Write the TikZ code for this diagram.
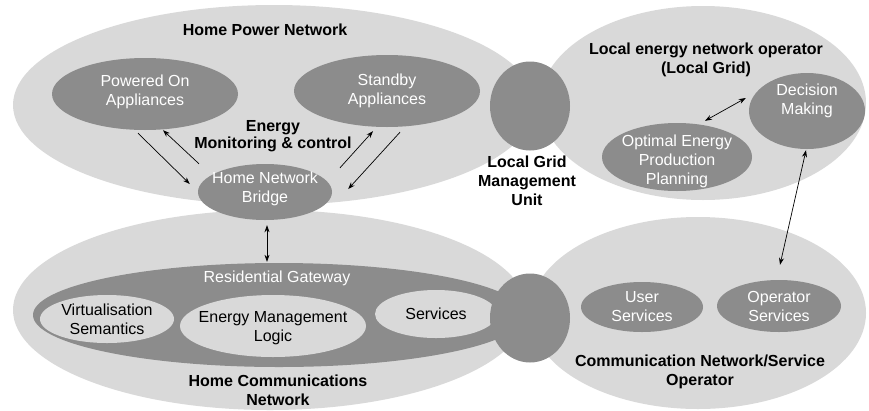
\documentclass[tikz,border=0pt]{standalone}
\usepackage{fontspec}
\setmainfont{Liberation Sans}
\usetikzlibrary{shapes.geometric,arrows.meta,calc}

\begin{document}
\begin{tikzpicture}[x=1pt,y=-1pt,
  every node/.style={font=\fontsize{16}{19}\selectfont,align=center},
  size/.style 2 args={minimum width=#1pt,minimum height=#2pt,inner sep=0pt},
  zone/.style={ellipse,fill=lightgrey},
  part/.style={ellipse,fill=darkgrey},
  wlabel/.style={text=white},
  heading/.style={font=\fontsize{16}{19}\selectfont\bfseries},
  arr/.style={-{Stealth[length=7pt,width=5pt]},line width=0.7pt},
  dbl/.style={{Stealth[length=7pt,width=5pt]}-{Stealth[length=7pt,width=5pt]},line width=0.7pt}]
\definecolor{lightgrey}{HTML}{D9D9D9}
\definecolor{darkgrey}{HTML}{8C8C8C}
\useasboundingbox (0,0) rectangle (869,410);

\node [zone,size={522}{200}] (hpn) at (274,105) {};
\node [zone,size={514}{200}] (hcn) at (270,310) {};
\node [zone,size={326}{194}] (leno) at (703,103) {};
\node [zone,size={336}{192}] (cnso) at (698,313) {};

\node [part,size={134}{56},label={[wlabel,yshift=3pt]center:Home Network\\Bridge}] (bridge) at (265,192) {};
\node [part,size={492}{104}] (gw) at (279,315) {};
\node [zone,size={134}{48},label={center:Virtualisation\\Semantics}] (vs) at (107,319) {};
\node [zone,size={186}{62},label={[yshift=-2pt]center:Energy Management\\Logic}] (eml) at (273,326) {};
\node [zone,size={122}{48},label={center:Services}] (serv) at (436,314) {};

\foreach \nm/\ypos in {lgmu/106,cgw/318}
  {  \node [part,size={80}{89}] (\nm) at (530,\ypos) {};}

\node [part,size={186}{72},label={[wlabel,yshift=2pt]center:Powered On\\Appliances}] (pon) at (145,94) {};
\node [part,size={186}{72},label={[wlabel]center:Standby\\Appliances}] (sa) at (387,91) {};
\node [part,size={150}{68},label={[wlabel,yshift=-4pt]center:Optimal Energy\\Production\\Planning}] (oepp) at (677,157) {};
\node [part,size={116}{76},label={[wlabel,yshift=10pt]center:Decision\\Making}] (dm) at (807,111) {};
\node [part,size={122}{50},label={[wlabel]center:User\\Services}] (us) at (642,307) {};
\node [part,size={124}{52},label={[wlabel]center:Operator\\Services}] (os) at (779,306) {};

\node [heading] (hpntitle) at (265,30) {Home Power Network};
\node [heading,font=\fontsize{16}{17}\selectfont\bfseries] (emc) at (273,136) {Energy\\Monitoring \& control};
\node [text=white] (gwtitle) at (277,278) {Residential Gateway};
\node [heading] (hcntitle) at (278,390) {Home Communications\\Network};
\node [heading] (lenotitle) at (706,60) {Local energy network operator\\(Local Grid)};
\node [heading] (cnsotitle) at (700,372) {Communication Network/Service\\Operator};
\node [heading] (lgmutitle) at (527,181) {Local Grid\\Management\\Unit};

\draw[arr] ($(pon.south)+(-7,3)$) -- ($(bridge.west)+(-8,-8)$);
\draw[arr] ($(bridge.north)+(-66,0)$) -- ($(pon.south)+(18,0)$);
\draw[arr] ($(bridge.north)+(75,4)$) -- ($(sa.south)+(-14,4)$);
\draw[arr] ($(sa.south)+(13,5)$) -- ($(bridge.east)+(16,-3)$);
\draw[dbl] ($(bridge.south)+(2,5)$) -- ($(gw.north)+(-12,-1)$);
\draw[dbl] ($(oepp.north)+(28,-2)$) -- ($(dm.west)+(-3,-13)$);
\draw[dbl] ($(dm.south)+(-1,1)$) -- ($(os.north)+(1,-15)$);
\end{tikzpicture}
\end{document}
